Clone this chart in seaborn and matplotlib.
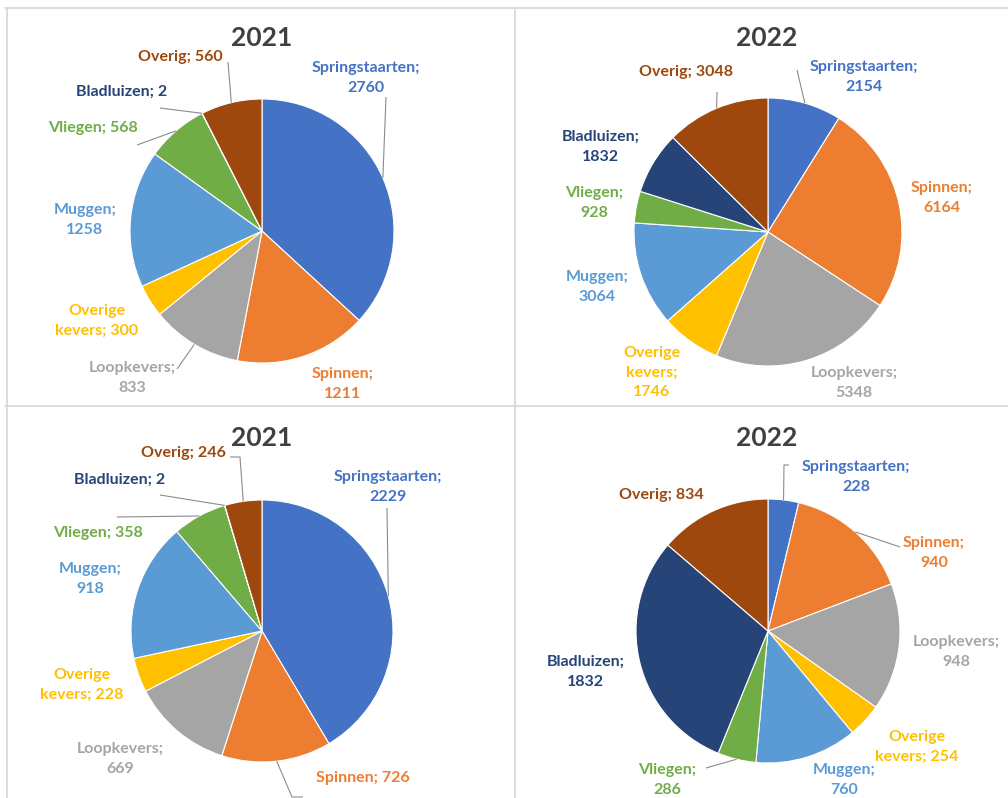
import numpy as np
import matplotlib
matplotlib.use("Agg")
import matplotlib.pyplot as plt
import seaborn as sns

# ---- data -------------------------------------------------------------
categories = ["Springstaarten", "Spinnen", "Loopkevers", "Overige kevers",
              "Muggen", "Vliegen", "Bladluizen", "Overig"]

counts_2021_top = [2760, 1211, 833, 300, 1258, 568, 2, 560]
counts_2022_top = [2154, 6164, 5348, 1746, 3064, 928, 1832, 3048]
counts_2021_bottom = [2229, 726, 669, 228, 918, 358, 2, 246]
counts_2022_bottom = [228, 940, 948, 254, 760, 286, 1832, 834]

titles = ["2021", "2022", "2021", "2022"]

# ---- style ------------------------------------------------------------
sns.set_theme(style="white")
plt.rcParams["font.family"] = ["Lato", "DejaVu Sans"]
palette = sns.color_palette(["#4472C4", "#ED7D31", "#A5A5A5", "#FFC000",
                             "#5B9BD5", "#70AD47", "#264478", "#9E480E"])

W, H = 1008, 798
fig = plt.figure(figsize=(W / 100, H / 100), dpi=100)
ax = fig.add_axes([0, 0, 1, 1])

# ---- layout (pixel space, y pointing down) ----------------------------
panels = [
    dict(values=counts_2021_top, cx=262, cy=231, r=132, title=(262, 38)),
    dict(values=counts_2022_top, cx=768, cy=232, r=134, title=(767, 38)),
    dict(values=counts_2021_bottom, cx=262, cy=631, r=131, title=(262, 438)),
    dict(values=counts_2022_bottom, cx=768, cy=631, r=132, title=(767, 438)),
]

# label placement per slice: (x, y, wrap mode, leader start points)
# wrap mode: 0 = one line, 1 = break at first space, 2 = break at every space
label_layout = [
    [(366, 78, 1, [(386, 97)]),
     (343, 384, 1, []),
     (132, 378, 1, [(177, 369)]),
     (97, 321, 1, []),
     (85, 220, 1, []),
     (93, 128, 0, [(137, 145)]),
     (122, 92, 0, [(160, 108)]),
     (180, 57, 0, [(228, 62)])],
    [(864, 77, 1, [(797, 70)]),
     (942, 198, 1, []),
     (854, 383, 1, []),
     (652, 373, 2, []),
     (597, 287, 1, []),
     (594, 203, 1, []),
     (601, 147, 1, []),
     (686, 72, 0, [(717, 92)])],
    [(388, 487, 1, [(387, 508)]),
     (363, 778, 0, [(303, 797), (292, 797)]),
     (120, 759, 1, []),
     (82, 685, 1, []),
     (90, 579, 1, []),
     (98, 533, 0, [(117, 517)]),
     (120, 480, 0, [(160, 495)]),
     (183, 453, 0, [(230, 457), (240, 457)])],
    [(856, 477, 1, [(789, 465), (784, 465)]),
     (934, 553, 1, [(900, 547)]),
     (956, 652, 1, []),
     (917, 747, 1, []),
     (844, 780, 1, []),
     (667, 780, 1, [(706, 768)]),
     (586, 672, 1, []),
     (661, 495, 0, [])],
]


def wrap(text, mode):
    if mode == 1:
        return text.replace(" ", "\n", 1)
    if mode == 2:
        return text.replace(" ", "\n")
    return text


for k, (panel, layout) in enumerate(zip(panels, label_layout)):
    vals = np.asarray(panel["values"], dtype=float)
    cx, cy, r = panel["cx"], panel["cy"], panel["r"]
    # y axis is inverted, so start at -90 deg and run counter-clockwise in
    # data space to get a clockwise pie starting at 12 o'clock on screen
    ax.pie(vals, colors=palette, startangle=-90, counterclock=True,
           center=(cx, cy), radius=r, frame=True,
           wedgeprops=dict(edgecolor="white", linewidth=0.8))
    frac = np.cumsum(vals) / vals.sum()
    mids = (frac - vals / vals.sum() / 2) * 2 * np.pi
    for i, (cat, v) in enumerate(zip(categories, panel["values"])):
        lx, ly, mode, leader = layout[i]
        ax.text(lx, ly, wrap(f"{cat}; {v}", mode), ha="center", va="center",
                color=palette[i], fontsize=11.5, fontweight="bold",
                linespacing=1.5)
        if leader:
            ex = cx + r * np.sin(mids[i])
            ey = cy - r * np.cos(mids[i])
            xs = [p[0] for p in leader] + [ex]
            ys = [p[1] for p in leader] + [ey]
            ax.plot(xs, ys, color="#8C8C8C", lw=0.8, solid_capstyle="butt")
    tx, ty = panel["title"]
    ax.text(tx, ty, titles[k], ha="center", va="center",
            fontsize=19, fontweight="bold", color="#404040")

# panel frames
frame_kw = dict(color="#D9D9D9", lw=1.3)
ax.plot([5, W], [8, 8], **frame_kw)
ax.plot([7, 7], [8, H], **frame_kw)
ax.plot([515, 515], [8, H], **frame_kw)
ax.plot([5, W], [406, 406], **frame_kw)

ax.set_xlim(0, W)
ax.set_ylim(H, 0)
ax.set_aspect("auto")
ax.axis("off")

fig.savefig("out.png", dpi=100, facecolor="white")
